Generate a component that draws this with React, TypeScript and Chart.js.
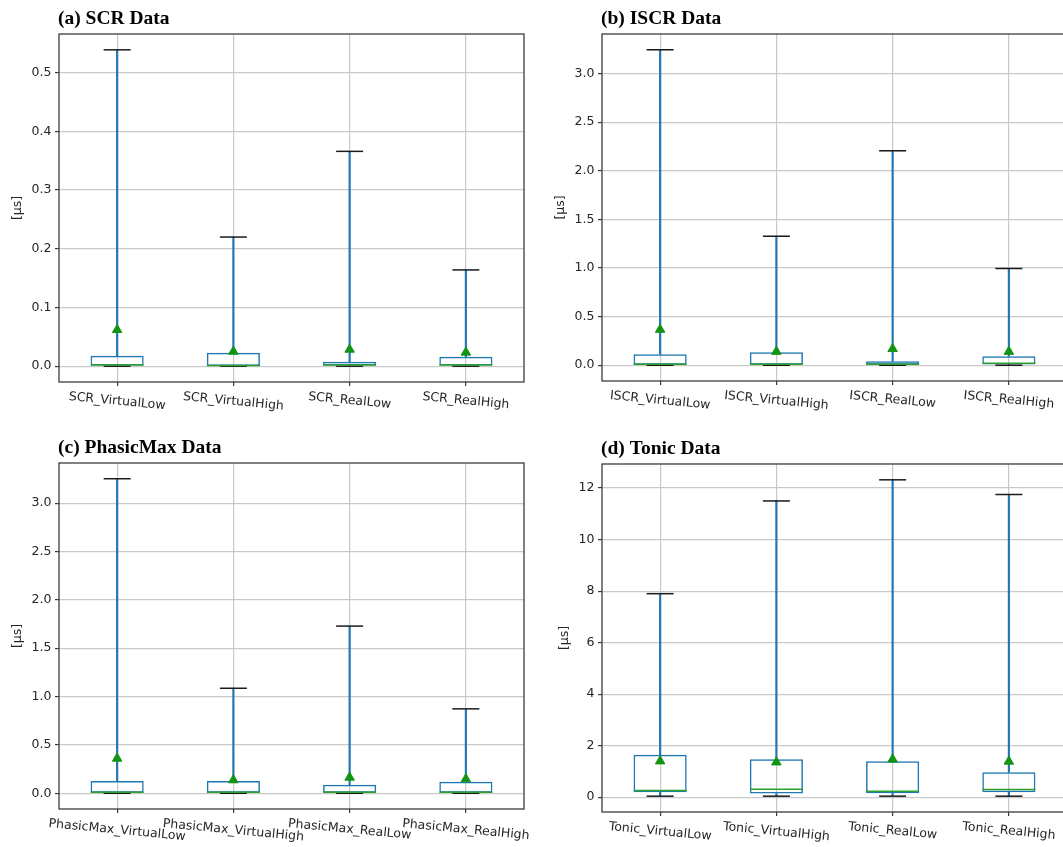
import { useEffect, useRef } from 'react';
import { Chart, registerables } from 'chart.js';

Chart.register(...registerables);

// ---------------- data ----------------
const SCR_LABELS = ['SCR_VirtualLow', 'SCR_VirtualHigh', 'SCR_RealLow', 'SCR_RealHigh'];
const SCR_LOW_CAP = [0, 0, 0, 0];
const SCR_Q1 = [0.001, 0.0005, 0.001, 0.001];
const SCR_MEDIAN = [0.002, 0.001, 0.002, 0.002];
const SCR_Q3 = [0.0176, 0.0228, 0.0074, 0.016];
const SCR_HIGH_CAP = [0.539, 0.22, 0.366, 0.164];
const SCR_MEAN = [0.062, 0.025, 0.0285, 0.0235];
const SCR_TICKS = [0, 0.1, 0.2, 0.3, 0.4, 0.5];

const ISCR_LABELS = ['ISCR_VirtualLow', 'ISCR_VirtualHigh', 'ISCR_RealLow', 'ISCR_RealHigh'];
const ISCR_LOW_CAP = [0, 0, 0, 0];
const ISCR_Q1 = [0.005, 0.005, 0.005, 0.008];
const ISCR_MEDIAN = [0.01, 0.01, 0.01, 0.02];
const ISCR_Q3 = [0.113, 0.134, 0.041, 0.093];
const ISCR_HIGH_CAP = [3.245, 1.327, 2.206, 0.995];
const ISCR_MEAN = [0.367, 0.14, 0.169, 0.14];
const ISCR_TICKS = [0, 0.5, 1.0, 1.5, 2.0, 2.5, 3.0];

const PHASIC_LABELS = ['PhasicMax_VirtualLow', 'PhasicMax_VirtualHigh', 'PhasicMax_RealLow', 'PhasicMax_RealHigh'];
const PHASIC_LOW_CAP = [0, 0, 0, 0];
const PHASIC_Q1 = [0.005, 0.005, 0.005, 0.005];
const PHASIC_MEDIAN = [0.01, 0.01, 0.01, 0.01];
const PHASIC_Q3 = [0.127, 0.127, 0.089, 0.12];
const PHASIC_HIGH_CAP = [3.253, 1.086, 1.729, 0.873];
const PHASIC_MEAN = [0.36, 0.137, 0.164, 0.147];
const PHASIC_TICKS = [0, 0.5, 1.0, 1.5, 2.0, 2.5, 3.0];

const TONIC_LABELS = ['Tonic_VirtualLow', 'Tonic_VirtualHigh', 'Tonic_RealLow', 'Tonic_RealHigh'];
const TONIC_LOW_CAP = [0.04, 0.04, 0.04, 0.04];
const TONIC_Q1 = [0.195, 0.14, 0.155, 0.195];
const TONIC_MEDIAN = [0.26, 0.31, 0.23, 0.3];
const TONIC_Q3 = [1.65, 1.47, 1.4, 0.97];
const TONIC_HIGH_CAP = [7.9, 11.5, 12.32, 11.75];
const TONIC_MEAN = [1.4, 1.36, 1.47, 1.39];
const TONIC_TICKS = [0, 2, 4, 6, 8, 10, 12];

const Y_TITLE = '[μs]';

// ---------------- styles ----------------
const BLUE = '#1f77b4';
const MEDIAN_GREEN = '#2ca02c';
const MEAN_GREEN = '#149414';
const CAP_COLOR = '#1a1a1a';
const GRID = '#c9c9c9';
const SPINE = '#3c3c3c';
const TEXT = '#262626';
const TICK_FONT = 'DejaVu Sans';
const TICK_SIZE = 12.5;
const ROT_DEG = 5.5;

type Panel = {
  key: string;
  title: string;
  labels: string[];
  low: number[];
  q1: number[];
  med: number[];
  q3: number[];
  high: number[];
  mean: number[];
  ticks: number[];
  decimals: number;
  box: { left: number; top: number; width: number; height: number };
  area: { left: number; top: number; right: number; bottom: number };
};

const PANELS: Panel[] = [
  {
    key: 'a', title: '(a) SCR Data', labels: SCR_LABELS, low: SCR_LOW_CAP, q1: SCR_Q1, med: SCR_MEDIAN,
    q3: SCR_Q3, high: SCR_HIGH_CAP, mean: SCR_MEAN, ticks: SCR_TICKS, decimals: 1,
    box: { left: 0, top: 0, width: 545, height: 420 },
    area: { left: 59, top: 34, right: 524, bottom: 382 },
  },
  {
    key: 'b', title: '(b) ISCR Data', labels: ISCR_LABELS, low: ISCR_LOW_CAP, q1: ISCR_Q1, med: ISCR_MEDIAN,
    q3: ISCR_Q3, high: ISCR_HIGH_CAP, mean: ISCR_MEAN, ticks: ISCR_TICKS, decimals: 1,
    box: { left: 531, top: 0, width: 540, height: 420 },
    area: { left: 71, top: 34, right: 536, bottom: 381 },
  },
  {
    key: 'c', title: '(c) PhasicMax Data', labels: PHASIC_LABELS, low: PHASIC_LOW_CAP, q1: PHASIC_Q1, med: PHASIC_MEDIAN,
    q3: PHASIC_Q3, high: PHASIC_HIGH_CAP, mean: PHASIC_MEAN, ticks: PHASIC_TICKS, decimals: 1,
    box: { left: 0, top: 420, width: 545, height: 427 },
    area: { left: 59, top: 43, right: 524, bottom: 389 },
  },
  {
    key: 'd', title: '(d) Tonic Data', labels: TONIC_LABELS, low: TONIC_LOW_CAP, q1: TONIC_Q1, med: TONIC_MEDIAN,
    q3: TONIC_Q3, high: TONIC_HIGH_CAP, mean: TONIC_MEAN, ticks: TONIC_TICKS, decimals: 0,
    box: { left: 531, top: 420, width: 540, height: 427 },
    area: { left: 71, top: 44, right: 536, bottom: 392 },
  },
];

function overlayPlugin(p: Panel) {
  return {
    id: 'overlay_' + p.key,
    afterDraw(chart: any) {
      const { ctx, chartArea: a, scales } = chart;
      ctx.save();
      // frame
      ctx.strokeStyle = SPINE;
      ctx.lineWidth = 1.3;
      ctx.strokeRect(a.left, a.top, a.right - a.left, a.bottom - a.top);

      // panel title
      ctx.fillStyle = '#000';
      ctx.font = 'bold 19.5px "Liberation Serif", "Times New Roman", serif';
      ctx.textAlign = 'left';
      ctx.textBaseline = 'alphabetic';
      ctx.fillText(p.title, a.left - 1, a.top - 10);

      // rotated x tick labels
      ctx.font = `${TICK_SIZE}px "${TICK_FONT}"`;
      ctx.fillStyle = TEXT;
      const th = (ROT_DEG * Math.PI) / 180;
      const lh = TICK_SIZE * 1.16;
      p.labels.forEach((lab, i) => {
        const x = scales.x.getPixelForValue(i);
        const w = ctx.measureText(lab).width;
        const h = w * Math.sin(th) + lh * Math.cos(th);
        const cy = a.bottom + 7.5 + h / 2;
        ctx.save();
        ctx.translate(x, cy);
        ctx.rotate(th);
        ctx.textAlign = 'center';
        ctx.textBaseline = 'middle';
        ctx.fillText(lab, 0, 0);
        ctx.restore();
      });

      // y axis title
      const ys = scales.y;
      const maxW = Math.max(...ys.ticks.map((t: any) => ctx.measureText(String(t.label)).width));
      const tx = a.left - 4 - 3.5 - maxW - 6 - 7.5;
      ctx.save();
      ctx.translate(tx, (a.top + a.bottom) / 2);
      ctx.rotate(-Math.PI / 2);
      ctx.textAlign = 'center';
      ctx.textBaseline = 'middle';
      ctx.fillText(Y_TITLE, 0, 0);
      ctx.restore();

      ctx.restore();
    },
  };
}

function makeChart(canvas: HTMLCanvasElement, p: Panel) {
  const lo = Math.min(...p.low);
  const hi = Math.max(...p.high, ...p.mean);
  const margin = (hi - lo) * 0.05;
  const yMin = lo - margin;
  const yMax = hi + margin;
  const axisW = p.area.left;
  const axisH = p.box.height - p.area.bottom;

  const pointDs = (label: string, data: number[], style: string, radius: number, color: string, fill: boolean) => ({
    type: 'line' as const,
    label,
    data,
    showLine: false,
    pointStyle: style,
    pointRadius: radius,
    pointHoverRadius: radius,
    pointBorderColor: color,
    pointBackgroundColor: fill ? color : 'rgba(0,0,0,0)',
    pointBorderWidth: style === 'line' ? 1.5 : 1,
    borderColor: color,
    backgroundColor: color,
  });

  return new Chart(canvas, {
    type: 'bar',
    data: {
      labels: p.labels,
      datasets: [
        pointDs('mean', p.mean, 'triangle', 5.5, MEAN_GREEN, true),
        pointDs('median', p.med, 'line', 26.5, MEDIAN_GREEN, false),
        pointDs('capHigh', p.high, 'line', 13.5, CAP_COLOR, false),
        pointDs('capLow', p.low, 'line', 13.5, CAP_COLOR, false),
        {
          type: 'bar',
          label: 'box',
          data: p.q1.map((v, i) => [v, p.q3[i]]),
          backgroundColor: 'rgba(0,0,0,0)',
          borderColor: BLUE,
          borderWidth: 1.5,
          borderSkipped: false,
          barPercentage: 0.457,
          categoryPercentage: 1,
          grouped: false,
        },
        {
          type: 'bar',
          label: 'whiskerHigh',
          data: p.q3.map((v, i) => [v, p.high[i]]),
          backgroundColor: BLUE,
          borderWidth: 0,
          barThickness: 1.5,
          grouped: false,
        },
        {
          type: 'bar',
          label: 'whiskerLow',
          data: p.low.map((v, i) => [v, p.q1[i]]),
          backgroundColor: BLUE,
          borderWidth: 0,
          barThickness: 1.5,
          grouped: false,
        },
      ] as any,
    },
    options: {
      responsive: false,
      animation: false,
      devicePixelRatio: 1,
      events: [],
      layout: {
        autoPadding: false,
        padding: { left: 0, top: p.area.top, right: p.box.width - p.area.right, bottom: 0 },
      },
      plugins: { legend: { display: false }, tooltip: { enabled: false }, title: { display: false } },
      scales: {
        x: {
          type: 'category',
          offset: true,
          grid: {
            offset: false,
            color: GRID,
            lineWidth: 1.2,
            drawTicks: true,
            tickLength: 4,
            tickColor: SPINE,
            tickWidth: 1.2,
          },
          border: { display: false },
          ticks: { display: false },
          afterFit: (s: any) => {
            s.height = axisH;
          },
        },
        y: {
          type: 'linear',
          min: yMin,
          max: yMax,
          bounds: 'data',
          grid: {
            color: GRID,
            lineWidth: 1.2,
            drawTicks: true,
            tickLength: 4,
            tickColor: SPINE,
            tickWidth: 1.2,
          },
          border: { display: false },
          ticks: {
            font: { family: TICK_FONT, size: TICK_SIZE },
            color: TEXT,
            padding: 3.5,
            callback: (v: any) => Number(v).toFixed(p.decimals),
          },
          afterBuildTicks: (s: any) => {
            s.ticks = p.ticks.map((v) => ({ value: v }));
          },
          afterFit: (s: any) => {
            s.width = axisW;
          },
        },
      },
    } as any,
    plugins: [overlayPlugin(p)],
  });
}

export default function App() {
  const refs = useRef<(HTMLCanvasElement | null)[]>([]);

  useEffect(() => {
    const charts = PANELS.map((p, i) => makeChart(refs.current[i] as HTMLCanvasElement, p));
    return () => charts.forEach((c) => c.destroy());
  }, []);

  return (
    <div
      style={{
        position: 'absolute',
        left: 0,
        top: 0,
        width: 1063,
        height: 847,
        overflow: 'hidden',
        background: '#ffffff',
      }}
    >
      {PANELS.map((p, i) => (
        <canvas
          key={p.key}
          ref={(el) => {
            refs.current[i] = el;
          }}
          width={p.box.width}
          height={p.box.height}
          style={{ position: 'absolute', left: p.box.left, top: p.box.top, width: p.box.width, height: p.box.height }}
        />
      ))}
    </div>
  );
}
